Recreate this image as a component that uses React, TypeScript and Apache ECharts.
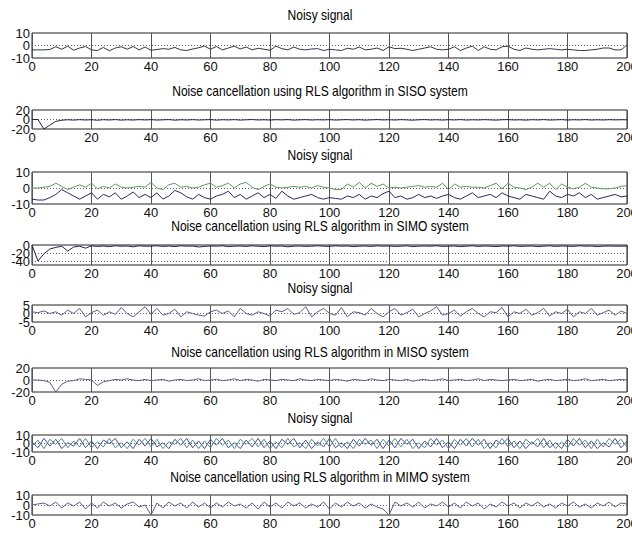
import React, { useEffect, useRef } from "react";
import * as echarts from "echarts";

// ---------------- DATA (sampled every 2 samples, x = 0..200) ----------------
const X_STEP = 2;
const X_TICKS = [0, 20, 40, 60, 80, 100, 120, 140, 160, 180, 200];

const TITLES = [
  "Noisy signal",
  "Noise cancellation using RLS algorithm in SISO system",
  "Noisy signal",
  "Noise cancellation using RLS algorithm in SIMO system",
  "Noisy signal",
  "Noise cancellation using RLS algorithm in MISO system",
  "Noisy signal",
  "Noise cancellation using RLS algorithm in MIMO system",
];

const sisoNoisy = [
  -3.5, -3.5, -3.5, -3.2, -1.0, -3.0, -0.5, -3.8, -2.0, -0.8,
  -3.5, -4.0, -1.5, -4.2, -2.0, -1.0, -3.0, -0.8, -3.5, -1.2,
  -3.8, -3.2, -2.5, -3.0, -1.5, -3.5, -4.0, -2.8, -1.8, -0.5,
  -3.0, -0.8, -3.5, -2.0, -0.5, -2.8, -1.2, -3.5, -2.2, -3.0,
  -3.8, -0.5, -2.5, -3.5, -1.2, -3.0, -3.5, -2.8, -2.5, -4.0,
  -3.0, -3.5, -4.0, -2.2, -3.0, -1.2, -3.5, -3.0, -2.0, -4.0,
  -1.0, -2.5, -2.2, -3.0, -4.0, -3.0, -2.0, -1.0, -3.0, -3.5,
  -3.0, -1.0, -4.0, -2.0, -0.5, -4.0, -1.0, -3.0, -3.5, -1.0,
  -0.5, -3.0, -4.0, -2.0, -3.0, -3.5, -3.0, -2.5, -3.0, -3.5,
  -3.0, -3.5, -4.0, -4.0, -3.5, -3.0, -2.0, -2.0, -3.5, -3.5,
  0.5,
];

const sisoOut = [
  0, 0, -20, -12, -4, -1.5, -0.5, -1.2, -0.3, -1.0,
  -0.5, -1.5, -0.4, -1.0, -0.2, -1.3, -0.6, -1.1, -0.3, -0.9,
  -0.4, -1.2, -0.7, -0.2, -1.4, -0.5, -1.0, -0.3, -1.1, -0.6,
  -0.2, -1.3, -0.5, -0.9, -0.3, -1.2, -0.6, -0.1, -1.0, -0.5,
  -1.2, -0.4, -0.8, -0.2, -1.3, -0.7, -0.3, -1.1, -0.5, -0.9,
  -0.3, -1.2, -0.6, -0.2, -1.0, -0.4, -1.3, -0.7, -0.2, -0.9,
  -0.5, -1.1, -0.3, -0.8, -1.4, -0.6, -0.2, -1.0, -0.5, -1.2,
  -0.4, -0.9, -0.2, -1.2, -0.6, -1.0, -0.3, -0.8, -1.3, -0.5,
  -0.2, -1.0, -0.6, -1.3, -0.4, -0.9, -0.2, -1.1, -0.7, -0.3,
  -1.2, -0.5, -0.9, -0.2, -1.1, -0.6, -1.0, -0.4, -0.8, -0.5,
  -0.6,
];

const simoNoisyA = [
  0, 0, 0.5, 1, 3, 1, -1, 0.5, 2, 0.5,
  3, -0.5, 1, 0, 2.5, 0.5, 0, 0.5, 1, 0.5,
  3.5, 0, -1, 2, 3, 0.5, 1, 0, 0.5, 2,
  3, 0.5, 1.5, 3, 0, 2.5, 3.5, 0.5, -1, 1,
  2.5, 0.5, 0, 0.5, 1, 0.5, 1, 0, 1.5, 0.5,
  0, -1, -1, 2.5, 0.5, 3.5, 0, 3, 1, 2.5,
  0, 0.5, 0, 0.5, 1, 1.5, 0.5, 1, 0.5, 3,
  -1, 2.5, 0.5, 1, 0.5, 0.5, 0, 1.5, 3, -0.5,
  3, 0.5, 0, -1, 0.5, 3, 0.5, 3, -1, 2.5,
  0.5, -0.5, 0.5, 3, 0.5, 0, -0.5, -0.5, 0, 1,
  1.5,
];

const simoNoisyB = [
  -7, -7.5, -7.5, -6, -4, -1, -3, -5, -7, -5,
  -3, -7, -4, -5.5, -3, -7, -5, -2.5, -6, -4,
  -6, -3, -7, -5, -1.5, -3, -5.5, -7, -4, -6,
  -7, -5, -4, -2, -6, -4, -7, -5, -3, -6,
  -4, -6.5, -2, -5, -7, -6, -5, -4, -6, -7,
  -6, -6.5, -7, -5, -6, -4, -7, -5, -6, -3.5,
  -2, -6, -5, -7, -6, -4, -6, -5, -6.5, -5,
  -4, -6, -7, -5, -3, -6, -5, -4, -6, -3,
  -5, -6, -7, -4, -5, -6, -7, -2, -5, -6,
  -4, -5, -3, -6, -4, -7, -6, -5, -4, -5.5,
  -5,
];

const simoOut = [
  0, -40, -22, -10, -6, -3, -15, -5, -3, -8,
  -2, -3.5, -2.5, -4, -2, -3, -2.5, -4.5, -2, -3,
  -3, -2, -3.5, -2.5, -4, -2, -3, -2.5, -5, -3.5,
  -2.5, -3, -2, -4, -3, -2.5, -3.5, -2, -3, -4,
  -2, -3, -2.5, -4.5, -3, -2.5, -3.5, -3, -2, -3,
  -3.5, -2, -3, -2.5, -4, -3, -2.5, -3.5, -2, -3,
  -2.5, -3.5, -3, -2, -4, -3, -2.5, -3, -2, -3.5,
  -3, -2.5, -4, -3, -2, -3.5, -2.5, -3, -4, -2.5,
  -3, -2, -3.5, -3, -2.5, -4, -3, -2, -3.5, -2.5,
  -3, -3.5, -2, -3, -2.5, -4, -3, -2.5, -3, -3,
  -3,
];

const misoNoisy = [
  1, 0.5, 1.5, 0, 1, -1, 2, 0, 3, -2,
  0.5, 2, -1, 1, -0.5, 3.5, 0, -2, 1, 4,
  -0.5, 3, -1, 0, 2.5, -2, 1, 0, -1, -1.5,
  1, 2, 0, 1.5, -2, 3, 0, -1, 1, 0,
  -1.5, 2, 1, 3, -0.5, 0.5, 4, -2, 1, 3,
  0, -1, 3.5, -2, 1, 0.5, -1, 3, 0, -2,
  1, 3, -1, 0.5, 2.5, -2, 0, 1.5, 4, -1,
  0, 2, -1.5, 1, 3, 0, -2, 1, 0.5, 3.5,
  -2, 1, 0, 2.5, -1, 0.5, 3, -1.5, 1, 0,
  2.5, -2, 1, 0, 3, -1, 0.5, 2, -1, 1.5,
  0,
];

const misoOut = [
  0, 0, -1, -4, -20, -7, -2, -1, 2, 1,
  0, -9, -3, -1, 1, 0, 2, 0, -1, 1,
  -1, 0, 1, -2, 0, 1, -1, 0, 2, -1,
  0, 1, -1, 0, 2, -1, 1, 0, -2, 1,
  0, -1, 1, 0, -1, 2, 0, -1, 1, 0,
  -1, 1, 0, -2, 1, 0, -1, 2, 0, -1,
  1, 0, -1, 1, -2, 0, 1, -1, 0, 2,
  -1, 0, 1, -1, 0, 2, -1, 1, 0, -1,
  0, 1, -1, 0, 1, -2, 0, 1, -1, 0,
  1, -1, 0, 2, -1, 0, 1, -1, 0, 1,
  0,
];

const mimoNoisyA = [
  2, -5, 6, -3, 5, -6, 1, -3, 6, -5,
  3, -6, 4, 0, 6, -5, 2, -6, 5, -3,
  6, -4, 1, -6, 5, -2, 6, -5, 3, -6,
  5, -2, 6, -5, 1, -6, 4, -4, 6, -5,
  3, -6, 5, -1, 6, -5, 4, -6, 2, -4,
  6, -5, 1, -6, 5, -3, 6, -2, 5, -6,
  4, -5, 6, -1, 5, -6, 3, -4, 6, -5,
  2, -6, 5, -3, 6, -2, 5, -6, 4, -1,
  6, -5, 3, -6, 2, -4, 6, -5, 1, -6,
  5, -3, 6, -5, 3, -6, 1, -4, 6, -5,
  3,
];

const mimoNoisyB = [
  -3, 4, -6, 5, -1, 6, -5, 3, -4, 6,
  -5, 2, -4, 6, -5, 1, -6, 5, -2, 6,
  -4, 5, -6, 2, -1, 6, -5, 4, -6, 3,
  -5, 6, -2, 4, -6, 5, -1, 6, -4, 5,
  -6, 2, -5, 6, -4, 1, -6, 5, -3, 6,
  -4, 6, -5, 2, -6, 5, -1, 4, -6, 5,
  -3, 6, -4, 5, -6, 1, -5, 6, -2, 4,
  -6, 5, -2, 6, -4, 5, -6, 1, -5, 6,
  -4, 3, -6, 5, -1, 6, -5, 4, -6, 2,
  -5, 6, -2, 4, -6, 5, -4, 6, -1, 5,
  -4,
];

const mimoOut = [
  0, 1, 2, -1, 3, -3, 2, -1, 3, -4,
  2, -3, 3, -1, 2, -3, 1, 3, -2, 0,
  -10, 2, -3, 3, -1, 2, -3, 3, -2, 2,
  -3, 2, -2, 3, -1, 1, -3, 2, -4, 3,
  -2, 2, -3, 3, -1, 2, -3, 1, -2, 3,
  -4, 2, -2, 3, -1, 2, -3, 1, -2, -4,
  -10, 3, -1, 2, -2, 3, -3, 1, -1, 3,
  -2, 2, -3, 3, -1, 2, -4, 1, -2, 3,
  -1, 2, -3, 2, -1, 3, -2, 1, -3, 2,
  -1, 3, -2, 1, -3, 2, -1, 3, -2, 2,
  1,
];

// y-axis ranges / tick labels per panel
const Y_MIN = [-10, -20, -10, -50, -5, -20, -10, -10];
const Y_MAX = [10, 20, 10, 0, 5, 20, 10, 10];
const Y_STEP = [5, 10, 5, 10, 2.5, 10, 2.5, 5];
const Y_TICKS = [
  [-10, 0, 10],
  [-20, 0, 20],
  [-10, 0, 10],
  [-40, -20, 0],
  [-5, 0, 5],
  [-20, 0, 20],
  [-10, 0, 10],
  [-10, 0, 10],
];

const PANEL_SERIES: { data: number[]; color: string }[][] = [
  [{ data: sisoNoisy, color: "#34344a" }],
  [{ data: sisoOut, color: "#20204f" }],
  [
    { data: simoNoisyA, color: "#5b9a5b" },
    { data: simoNoisyB, color: "#2a2a66" },
  ],
  [{ data: simoOut, color: "#20204f" }],
  [{ data: misoNoisy, color: "#5c5c8e" }],
  [{ data: misoOut, color: "#5c5c8e" }],
  [
    { data: mimoNoisyA, color: "#4a4a9c" },
    { data: mimoNoisyB, color: "#4f8f7c" },
  ],
  [{ data: mimoOut, color: "#5c5c8e" }],
];

// ---------------- LAYOUT ----------------
const GRID_TOP = [33, 110, 172, 245, 305, 368, 435, 495];
const GRID_H = [25, 19, 32, 20, 17, 24, 17, 20];
const TITLE_Y = [15, 91, 155, 226, 288, 352, 418, 477];
const FONT = "'Liberation Sans', Arial, sans-serif";

export default function App() {
  const ref = useRef<HTMLDivElement>(null);

  useEffect(() => {
    document.body.style.margin = "0";
    if (!ref.current) return;
    const chart = echarts.init(ref.current, undefined, { renderer: "svg" });

    const grids: any[] = [];
    const xAxes: any[] = [];
    const yAxes: any[] = [];
    const series: any[] = [];
    const graphics: any[] = [];

    for (let i = 0; i < 8; i++) {
      grids.push({
        left: 32,
        right: 5,
        top: GRID_TOP[i],
        height: GRID_H[i],
        show: true,
        borderColor: "#222",
        borderWidth: 1,
        backgroundColor: "#fff",
        containLabel: false,
        outerBoundsMode: "none",
      });
      xAxes.push({
        type: "value",
        gridIndex: i,
        min: X_TICKS[0],
        max: X_TICKS[X_TICKS.length - 1],
        interval: 20,
        axisLine: { show: false },
        axisTick: { show: false },
        axisLabel: {
          fontSize: 13,
          fontFamily: FONT,
          color: "#111",
          margin: 2,
          showMaxLabel: true,
          showMinLabel: true,
          alignMaxLabel: "center",
          alignMinLabel: "center",
          hideOverlap: false,
        },
        splitLine: { show: true, lineStyle: { color: "#555", width: 1, type: "solid" } },
      });
      const ticks = Y_TICKS[i];
      yAxes.push({
        type: "value",
        gridIndex: i,
        min: Y_MIN[i],
        max: Y_MAX[i],
        interval: Y_STEP[i],
        axisLine: { show: false },
        axisTick: { show: false },
        axisLabel: {
          fontSize: 13,
          fontFamily: FONT,
          color: "#111",
          margin: 2,
          lineHeight: 4,
          showMaxLabel: true,
          showMinLabel: true,
          hideOverlap: false,
          formatter: (v: number) => (ticks.indexOf(v) >= 0 ? String(v) : ""),
        },
        splitLine: { show: false },
      });
      const inner = ticks.filter((t) => t > Y_MIN[i] && t < Y_MAX[i]);
      PANEL_SERIES[i].forEach((s, k) => {
        series.push({
          type: "line",
          xAxisIndex: i,
          yAxisIndex: i,
          data: s.data.map((v, j) => [j * X_STEP, v]),
          showSymbol: false,
          symbol: "none",
          lineStyle: { color: s.color, width: 1 },
          z: 3,
          markLine:
            k === 0
              ? {
                  silent: true,
                  symbol: "none",
                  label: { show: false },
                  lineStyle: { color: "#666", type: [1, 2], width: 1 },
                  data: inner.map((t) => ({ yAxis: t })),
                  z: 2,
                }
              : undefined,
        });
      });
      graphics.push({
        type: "text",
        x: 320,
        y: TITLE_Y[i],
        scaleX: 0.86,
        style: {
          text: TITLES[i],
          font: `14px ${FONT}`,
          fill: "#000",
          textAlign: "center",
          textVerticalAlign: "middle",
        },
        z: 10,
      });
    }

    chart.setOption({
      animation: false,
      backgroundColor: "#fff",
      grid: grids,
      xAxis: xAxes,
      yAxis: yAxes,
      series,
      graphic: graphics,
    });

    return () => chart.dispose();
  }, []);

  return <div ref={ref} style={{ width: 632, height: 533 }} />;
}
